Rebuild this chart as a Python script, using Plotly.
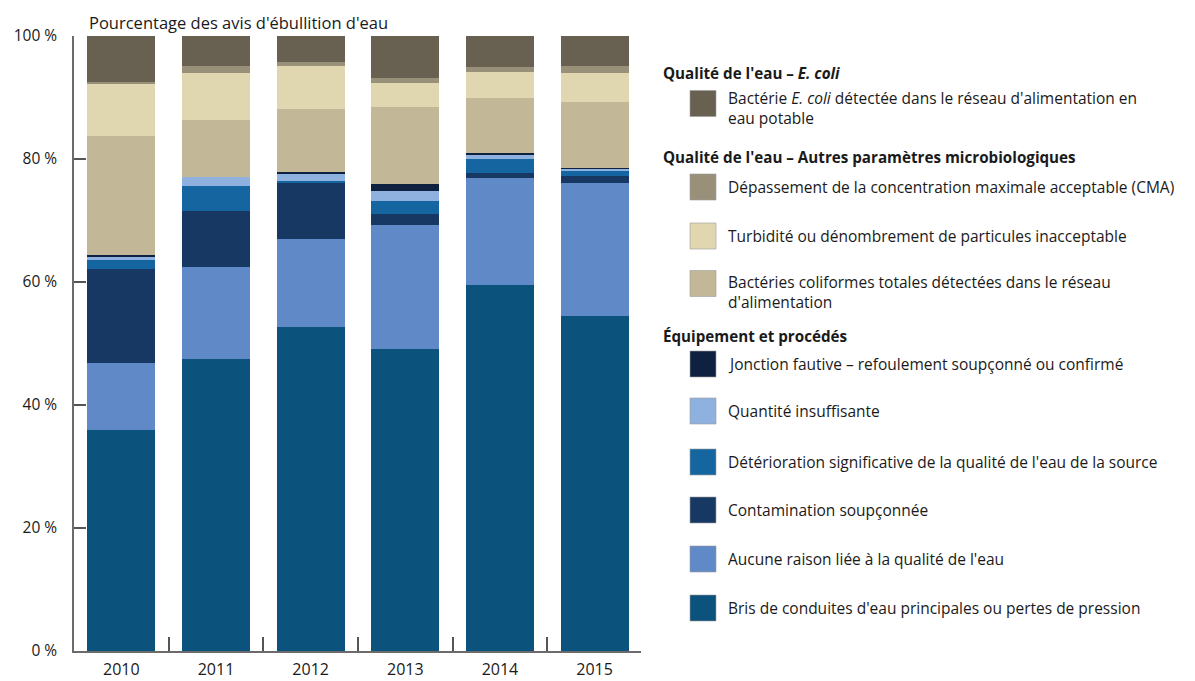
import plotly.graph_objects as go

# ---------------- data ----------------
years = ["2010", "2011", "2012", "2013", "2014", "2015"]

bris = [35.9, 47.4, 52.7, 49.1, 59.5, 54.5]
aucune = [10.9, 15.0, 14.3, 20.2, 17.4, 21.6]
contamination = [15.3, 9.1, 9.2, 1.8, 0.8, 1.2]
deterioration = [1.5, 4.1, 0.3, 2.0, 2.3, 0.7]
quantite = [0.6, 1.4, 1.2, 1.7, 0.8, 0.4]
jonction = [0.2, 0.0, 0.2, 1.2, 0.2, 0.2]
coliformes = [19.3, 9.4, 10.3, 12.5, 8.9, 10.7]
turbidite = [8.6, 7.6, 6.9, 3.9, 4.3, 4.7]
cma = [0.3, 1.1, 0.7, 0.8, 0.7, 1.1]
ecoli = [7.4, 4.9, 4.2, 6.8, 5.1, 4.9]

y_tick_values = [0, 20, 40, 60, 80, 100]
y_tick_labels = ["0\u00a0%", "20\u00a0%", "40\u00a0%", "60\u00a0%", "80\u00a0%", "100\u00a0%"]

series_names = [
    "Bris de conduites d'eau principales ou pertes de pression",
    "Aucune raison liée à la qualité de l'eau",
    "Contamination soupçonnée",
    "Détérioration significative de la qualité de l'eau de la source",
    "Quantité insuffisante",
    "Jonction fautive – refoulement soupçonné ou confirmé",
    "Bactéries coliformes totales détectées dans le réseau<br>d'alimentation",
    "Turbidité ou dénombrement de particules inacceptable",
    "Dépassement de la concentration maximale acceptable (CMA)",
    "Bactérie <i>E. coli</i> détectée dans le réseau d'alimentation en<br>eau potable",
]
series_values = [bris, aucune, contamination, deterioration, quantite,
                 jonction, coliformes, turbidite, cma, ecoli]
series_colors = ["#0b527c", "#6089c7", "#173863", "#1565a0", "#8eb1df",
                 "#0f2140", "#c2b898", "#e0d7b0", "#999079", "#686050"]

group_titles = [
    "Qualité de l'eau – <i>E. coli</i>",
    "Qualité de l'eau – Autres paramètres microbiologiques",
    "Équipement et procédés",
]

# ---------------- layout constants ----------------
W, H = 1195, 681
OFF = 8  # page body margin
L, R, T, B = 74 - OFF, 562, 36 - OFF, 38
FONT = "Open Sans"


def px_x(p):
    return (p - OFF - L) / (W - L - R)


def px_y(p):
    return (H - B - (p - OFF)) / (H - T - B)


fig = go.Figure()
for name, vals, col in zip(series_names, series_values, series_colors):
    fig.add_trace(go.Bar(
        x=years, y=vals, name=name.replace("<br>", " "),
        marker=dict(color=col, line=dict(width=0)),
        showlegend=False,
        hovertemplate="%{x}: %{y:.1f} %<extra></extra>",
    ))

# ---------------- custom legend ----------------
shapes = []
annotations = []

header_y = [73, 157, 336]
for txt, yy in zip(group_titles, header_y):
    annotations.append(dict(
        x=px_x(661), y=px_y(yy), xref="paper", yref="paper",
        text="<b>" + txt + "</b>", showarrow=False,
        xanchor="left", yanchor="middle", align="left",
        font=dict(family=FONT, size=15.2, color="#1a1a1a"),
    ))

item_y = [108, 187, 236, 292, 364, 411, 462, 510, 559, 608]
swatch_y = [103.5, 187, 236, 283.5, 364, 411, 462, 510, 559, 608]
order = list(range(len(series_names)))[::-1]
for k, idx in enumerate(order):
    sy = swatch_y[k]
    shapes.append(dict(
        type="rect", xref="paper", yref="paper",
        x0=px_x(690), x1=px_x(716), y0=px_y(sy + 13), y1=px_y(sy - 13),
        fillcolor=series_colors[idx], line=dict(width=0.6, color="#9a9a9a"),
    ))
    annotations.append(dict(
        x=px_x(726), y=px_y(item_y[k]), xref="paper", yref="paper",
        text=series_names[idx], showarrow=False,
        xanchor="left", yanchor="middle", align="left",
        font=dict(family=FONT, size=15.5, color="#1a1a1a"),
    ))

annotations.append(dict(
    x=px_x(87), y=px_y(8.5), xref="paper", yref="paper",
    text="Pourcentage des avis d'ébullition d'eau", showarrow=False,
    xanchor="left", yanchor="top",
    font=dict(family=FONT, size=16.5, color="#1a1a1a"),
))

fig.update_layout(
    width=W, height=H,
    margin=dict(l=L, r=R, t=T, b=B, pad=0, autoexpand=False),
    barmode="stack",
    bargap=0.28,
    plot_bgcolor="white",
    paper_bgcolor="white",
    font=dict(family=FONT, size=15, color="#1a1a1a"),
    shapes=shapes,
    annotations=annotations,
    showlegend=False,
)

fig.update_xaxes(
    type="category",
    range=[-0.5, 5.49],
    automargin=False,
    showline=True, linecolor="#6b6b6b", linewidth=1.5,
    ticks="inside", tickson="boundaries", ticklen=14, tickwidth=1.5,
    tickcolor="#555555",
    ticklabelstandoff=3,
    showgrid=False, zeroline=False,
    tickfont=dict(family=FONT, size=16, color="#1a1a1a"),
)
fig.update_yaxes(
    range=[0, 100],
    automargin=False,
    tickmode="array",
    tickvals=y_tick_values,
    ticktext=y_tick_labels,
    showline=True, linecolor="#6b6b6b", linewidth=1.5,
    ticks="inside", ticklen=12, tickwidth=1.5, tickcolor="#555555",
    ticklabelstandoff=12,
    showgrid=False, zeroline=False,
    tickfont=dict(family=FONT, size=15.5, color="#1a1a1a"),
)

fig.write_html("out.html")
